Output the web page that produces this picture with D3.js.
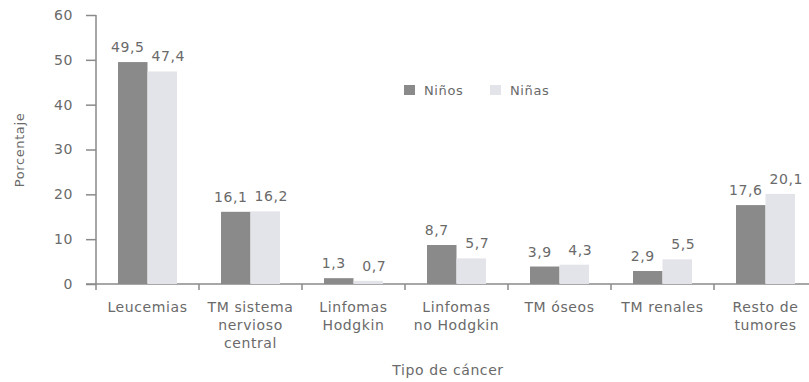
<!DOCTYPE html>
<html>
<head>
<meta charset="utf-8">
<script src="https://cdn.jsdelivr.net/npm/d3@7"></script>
<style>
  html, body { margin: 0; padding: 0; background: #fff; }
  svg { display: block; }
  text { font-family: "DejaVu Sans", sans-serif; fill: #6a6a6a; letter-spacing: 0.6px; }
</style>
</head>
<body>
<svg id="chart" width="809" height="382"></svg>
<script>
// Tipos de cáncer (cada etiqueta puede tener varias líneas)
const categories = [
  ["Leucemias"],
  ["TM sistema", "nervioso", "central"],
  ["Linfomas", "Hodgkin"],
  ["Linfomas", "no Hodgkin"],
  ["TM óseos"],
  ["TM renales"],
  ["Resto de", "tumores"]
];
const ninos = [49.5, 16.1, 1.3, 8.7, 3.9, 2.9, 17.6];
const ninas = [47.4, 16.2, 0.7, 5.7, 4.3, 5.5, 20.1];
const seriesNames = ["Niños", "Niñas"];
const seriesColors = ["#8a8a8a", "#e3e3ea"];
const yTicks = [0, 10, 20, 30, 40, 50, 60];

const svg = d3.select("#chart");
const x0 = 96, x1 = 817, yBottom = 284, yTop = 15;
const fs = 14;

const x = d3.scaleBand().domain(d3.range(categories.length)).range([x0, x1]).paddingInner(0).paddingOuter(0);
const y = d3.scaleLinear().domain([0, 60]).range([yBottom, yTop]);
const barW = 29.5;
const xs = d3.scaleBand().domain([0, 1]).range([-barW, barW]);

const fmt = v => d3.format(".1f")(v).replace(".", ",");

// Eje Y
const yAxis = d3.axisLeft(y).tickValues(yTicks).tickSize(10).tickPadding(13).tickFormat(d3.format("d"));
const gy = svg.append("g").attr("transform", `translate(${x0},0)`).call(yAxis);
gy.select(".domain").attr("stroke", "#8a8a8a").attr("stroke-width", 1.5).attr("d", `M0,${yTop}V${yBottom}`);
gy.selectAll(".tick line").attr("stroke", "#8a8a8a").attr("stroke-width", 1.5);
gy.selectAll(".tick text").attr("font-size", fs).style("fill", "#6a6a6a");

// Eje X con marcas entre categorías
const gx = svg.append("g");
gx.append("line").attr("x1", x0 - 10).attr("x2", x1).attr("y1", yBottom).attr("y2", yBottom)
  .attr("stroke", "#8a8a8a").attr("stroke-width", 1.5);
gx.selectAll("line.tk").data(d3.range(categories.length + 1)).join("line")
  .attr("class", "tk")
  .attr("x1", i => x0 + i * x.bandwidth()).attr("x2", i => x0 + i * x.bandwidth())
  .attr("y1", yBottom).attr("y2", yBottom + 6)
  .attr("stroke", "#8a8a8a").attr("stroke-width", 1.5);

// Etiquetas de categoría
const cat = svg.append("g").selectAll("text").data(categories).join("text")
  .attr("text-anchor", "middle")
  .attr("font-size", fs)
  .attr("x", (d, i) => x(i) + x.bandwidth() / 2)
  .attr("y", 312);
cat.selectAll("tspan").data(d => d).join("tspan")
  .attr("x", function () { return d3.select(this.parentNode).attr("x"); })
  .attr("dy", (d, j) => j === 0 ? 0 : 18)
  .text(d => d);

// Barras
const data = categories.map((c, i) => [ninos[i], ninas[i]]);
const groups = svg.append("g").selectAll("g").data(data).join("g")
  .attr("transform", (d, i) => `translate(${x(i) + x.bandwidth() / 2},0)`);
groups.selectAll("rect").data(d => d).join("rect")
  .attr("x", (d, j) => xs(j))
  .attr("width", xs.bandwidth())
  .attr("y", d => y(d))
  .attr("height", d => yBottom - y(d))
  .attr("fill", (d, j) => seriesColors[j]);

// Valores sobre las barras
const labelShift = [-5, 6];
groups.selectAll("text").data(d => d).join("text")
  .attr("text-anchor", "middle")
  .attr("font-size", fs)
  .attr("x", (d, j) => xs(j) + xs.bandwidth() / 2 + labelShift[j])
  .attr("y", d => y(d) - 10)
  .text(d => fmt(d));

// Leyenda
const legend = svg.append("g").attr("transform", "translate(404,85)");
const li = legend.selectAll("g").data(seriesNames).join("g")
  .attr("transform", (d, i) => `translate(${i * 86},0)`);
li.append("rect").attr("width", 11).attr("height", 10).attr("fill", (d, i) => seriesColors[i]);
li.append("text").attr("x", 20).attr("y", 10).attr("font-size", fs - 1).text(d => d);

// Títulos de ejes
svg.append("text").attr("text-anchor", "middle").attr("font-size", fs - 1)
  .attr("transform", "translate(24,150) rotate(-90)").text("Porcentaje");
svg.append("text").attr("text-anchor", "middle").attr("font-size", fs)
  .attr("x", 448).attr("y", 375).text("Tipo de cáncer");
</script>
</body>
</html>
